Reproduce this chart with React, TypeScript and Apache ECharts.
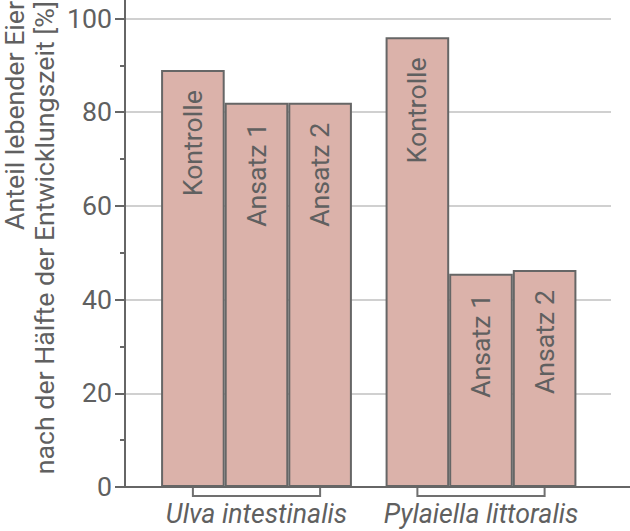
import React, { useEffect, useRef } from "react";
import * as echarts from "echarts";

const categories = ["Ulva intestinalis", "Pylaiella littoralis"];
const seriesNames = ["Kontrolle", "Ansatz 1", "Ansatz 2"];
const kontrolle = [89, 96];
const ansatz1 = [82, 45.5];
const ansatz2 = [82, 46.3];
const yTitleLines = ["Anteil lebender Eier", "nach der Hälfte der Entwicklungszeit [%]"];

const FONT = "Roboto";
const FS = 26.7;
const TEXT = "#606060";
const AXIS = "#666666";
const BAR_FILL = "#dbb2aa";
const GAP = 0.15;

export default function App() {
  const ref = useRef<HTMLDivElement>(null);
  useEffect(() => {
    document.body.style.margin = "0";
    if (!ref.current) return;
    const chart = echarts.init(ref.current, undefined, { renderer: "svg" });
    const values = [kontrolle, ansatz1, ansatz2];
    const barSeries = seriesNames.map((name, i) => ({
      name,
      type: "bar",
      xAxisIndex: 1,
      yAxisIndex: 1,
      data: values[i],
      barGap: "0%",
      barCategoryGap: GAP * 100 + "%",
      itemStyle: { color: BAR_FILL, borderColor: AXIS, borderWidth: 2 },
      label: {
        show: true,
        position: "insideTop",
        rotate: 90,
        align: "right",
        verticalAlign: "middle",
        distance: 20,
        formatter: name,
        fontFamily: FONT,
        fontSize: FS,
        color: TEXT,
      },
      z: 3,
    }));
    chart.setOption({
      animation: false,
      grid: [
        { left: 125, width: 486, top: 18.5, bottom: 44 },
        { left: 144.25, width: 449, top: 18.5, bottom: 44 },
        { left: 125, right: 0, top: 0, bottom: 44 },
      ],
      xAxis: [
        { gridIndex: 0, type: "value", show: false, min: 0, max: 1 },
        {
          gridIndex: 1,
          type: "category",
          data: categories,
          axisLine: { show: false },
          axisTick: { show: false },
          axisLabel: {
            interval: 0,
            hideOverlap: false,
            margin: 13,
            fontFamily: FONT,
            fontSize: FS,
            fontStyle: "italic",
            color: TEXT,
          },
        },
        {
          gridIndex: 2,
          type: "value",
          min: 0,
          max: 1,
          axisLine: { show: true, onZero: false, lineStyle: { color: AXIS, width: 2 } },
          axisTick: { show: false },
          axisLabel: { show: false },
          splitLine: { show: false },
        },
      ],
      yAxis: [
        {
          gridIndex: 0,
          type: "value",
          min: 0,
          max: 100,
          interval: 20,
          axisLine: { show: false },
          axisTick: { show: true, length: 10, lineStyle: { color: AXIS, width: 2 } },
          minorTick: { show: true, splitNumber: 2, length: 5, lineStyle: { color: AXIS, width: 2 } },
          axisLabel: { margin: 13, fontFamily: FONT, fontSize: FS, color: TEXT },
          splitLine: { show: true, lineStyle: { color: "#d0d0d0", width: 2 } },
        },
        { gridIndex: 1, type: "value", min: 0, max: 100, show: false },
        {
          gridIndex: 2,
          type: "value",
          min: 0,
          max: 1,
          axisLine: { show: true, onZero: false, lineStyle: { color: AXIS, width: 2 } },
          axisTick: { show: false },
          axisLabel: { show: false },
          splitLine: { show: false },
        },
      ],
      graphic: [
        {
          type: "text",
          x: 0,
          y: 1,
          rotation: Math.PI / 2,
          style: {
            text: yTitleLines.join("\n"),
            fontFamily: FONT,
            fontSize: FS,
            lineHeight: 30,
            fill: TEXT,
            align: "right",
            verticalAlign: "top",
          },
        },
      ],
      series: [
        ...barSeries,
        {
          type: "custom",
          xAxisIndex: 1,
          yAxisIndex: 1,
          data: categories.map((_, i) => [i, 0]),
          encode: { x: 0, y: 1 },
          z: 4,
          renderItem: (params: any, api: any) => {
            const idx = api.value(0);
            const base = api.coord([idx, 0]);
            const w = api.size([1, 0])[0];
            const hw = (w * (1 - GAP)) / 3;
            const y0 = base[1] + 1;
            const y1 = base[1] + 9;
            return {
              type: "polyline",
              shape: {
                points: [
                  [base[0] - hw, y0],
                  [base[0] - hw, y1],
                  [base[0] + hw, y1],
                  [base[0] + hw, y0],
                ],
              },
              style: { stroke: "#707070", lineWidth: 2, fill: "none" },
            };
          },
        },
      ],
    });
    return () => chart.dispose();
  }, []);
  return <div ref={ref} style={{ width: 630, height: 531 }} />;
}
